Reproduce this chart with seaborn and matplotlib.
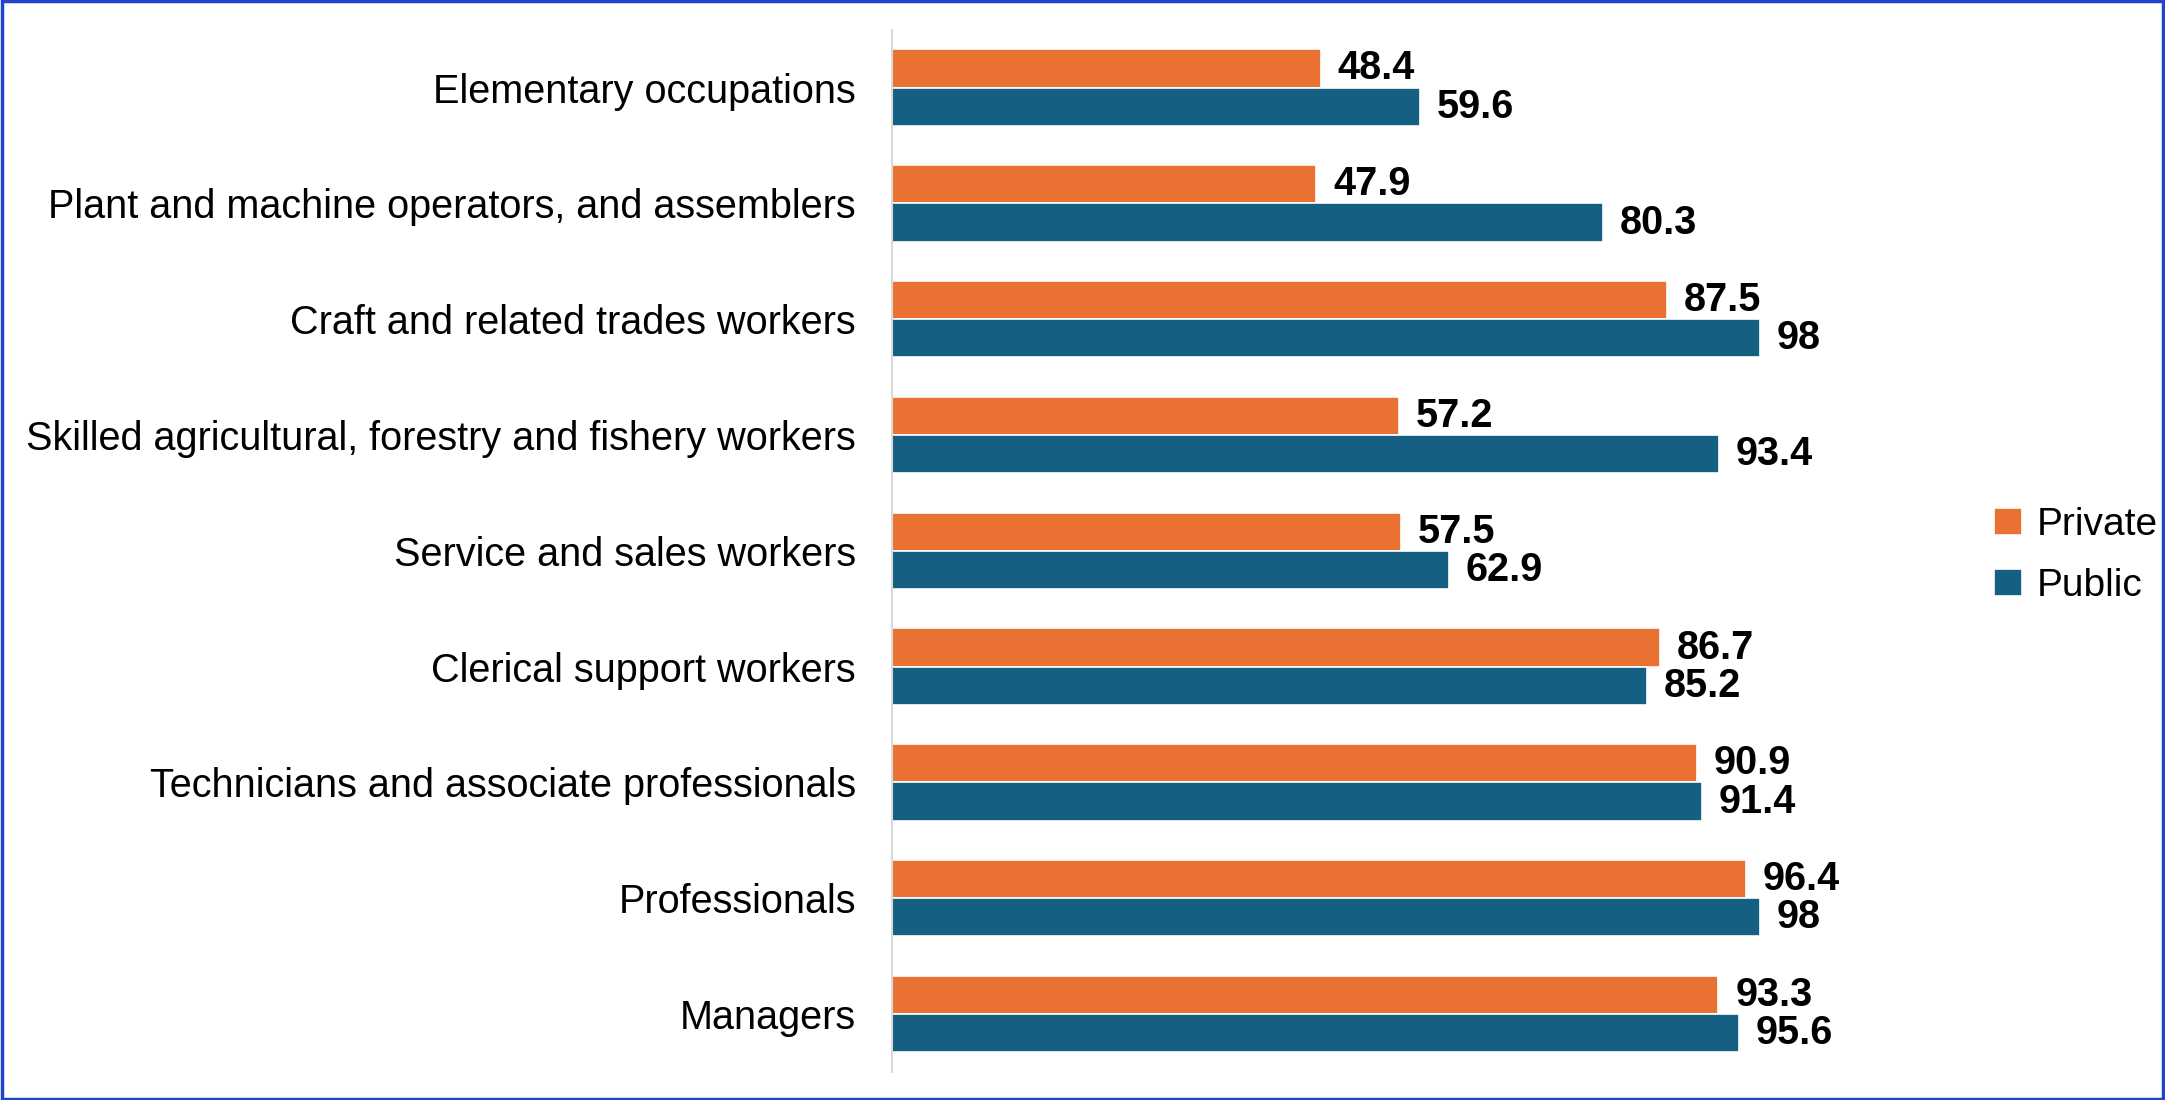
import pandas as pd
import seaborn as sns
import matplotlib.pyplot as plt
from matplotlib.patches import Rectangle

# Chart data (top to bottom as shown)
occupations = ['Elementary occupations',
               'Plant and machine operators, and assemblers',
               'Craft and related trades workers',
               'Skilled agricultural, forestry and fishery workers',
               'Service and sales workers',
               'Clerical support workers',
               'Technicians and associate professionals',
               'Professionals',
               'Managers']
private = [48.4, 47.9, 87.5, 57.2, 57.5, 86.7, 90.9, 96.4, 93.3]
public = [59.6, 80.3, 98, 93.4, 62.9, 85.2, 91.4, 98, 95.6]
sectors = ['Private', 'Public']
colors = ['#E97132', '#156082']

# long format for seaborn
df = pd.DataFrame({'occupation': occupations, 'Private': private, 'Public': public})
df = df.melt(id_vars='occupation', value_vars=sectors, var_name='sector', value_name='value')

sns.set_style('white')
plt.rcParams['font.family'] = ['Liberation Sans', 'DejaVu Sans']
plt.rcParams['text.color'] = 'black'
plt.rcParams['ytick.color'] = 'black'

fig = plt.figure(figsize=(21.65, 11), dpi=100)
ax = fig.add_axes([0.412, 0.0255, 0.491, 0.9475])

sns.barplot(data=df, y='occupation', x='value', hue='sector', order=occupations,
            hue_order=sectors, palette=colors, orient='h', width=0.66,
            edgecolor='white', linewidth=1.2, saturation=1, ax=ax)

for cont in ax.containers:
    ax.bar_label(cont, fmt=lambda v: f'{v:g}', padding=12, fontsize=28.5,
                 fontweight='bold', color='black')

ax.set_xlim(0, 120)
ax.set_xlabel('')
ax.set_ylabel('')
ax.set_xticks([])
ax.tick_params(axis='y', length=0, pad=26, labelsize=28.5, labelcolor='black')
for s in ['top', 'right', 'bottom']:
    ax.spines[s].set_visible(False)
ax.spines['left'].set_color('#d9d9d9')
ax.spines['left'].set_linewidth(1.5)

# legend on the right
handles, labels = ax.get_legend_handles_labels()
ax.get_legend().remove()
fig.legend(handles, labels, loc='center left', bbox_to_anchor=(0.905, 0.495),
           frameon=False, fontsize=28, handlelength=0.7, handleheight=0.7,
           handletextpad=0.4, labelspacing=0.65)

# blue frame around the figure
fig.patches.append(Rectangle((0.001, 0.001), 0.998, 0.998, transform=fig.transFigure,
                             fill=False, edgecolor='#2244cc', linewidth=2.5))

fig.savefig('out.png', dpi=100)
